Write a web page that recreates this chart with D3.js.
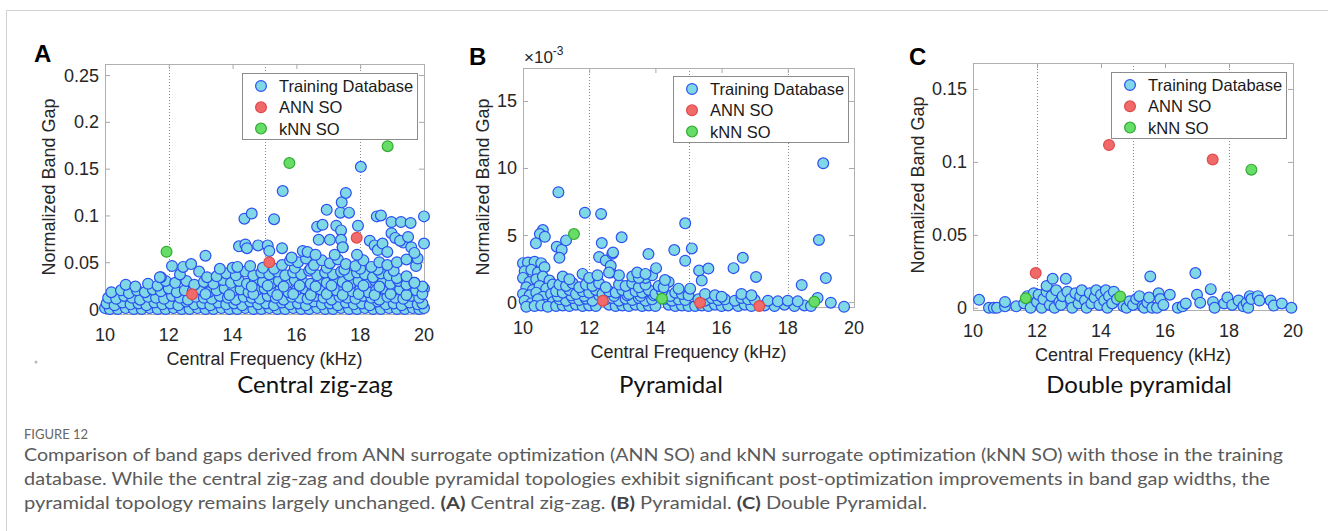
<!DOCTYPE html>
<html>
<head>
<meta charset="utf-8">
<script src="https://cdn.jsdelivr.net/npm/d3@7"></script>
<style>
  html, body { margin: 0; padding: 0; background: #fff; }
  svg { display: block; }
  .tick-label { font-family: "Liberation Sans", Arial, sans-serif; font-size: 18px; fill: #262626; }
  .axis-label { font-family: "Liberation Sans", Arial, sans-serif; font-size: 18px; fill: #262626; }
  .legend-text { font-family: "Liberation Sans", Arial, sans-serif; font-size: 16.5px; fill: #1a1a1a; }
  .panel-letter { font-family: "Liberation Sans", Arial, sans-serif; font-size: 24px; font-weight: bold; fill: #000; }
  .subtitle { font-family: Lato, "Open Sans", sans-serif; font-size: 24px; fill: #111; }
  .caption { font-family: Lato, "Open Sans", sans-serif; font-size: 17.5px; fill: #5a5a5a; }
</style>
</head>
<body>
<svg id="fig" width="1328" height="531"></svg>
<script>
// Panel A: central zig-zag  [freq kHz, normalized band gap]
const trainA = [
  [10.0,0.001],[10.15,0.0],[10.4,0.0],[10.65,0.001],[10.9,0.0],[11.15,0.0],[11.4,0.001],[11.65,0.0],[11.9,0.0],[12.15,0.001],
  [12.4,0.0],[12.65,0.0],[12.9,0.001],[13.15,0.0],[13.4,0.0],[13.65,0.001],[13.9,0.0],[14.15,0.0],[14.4,0.001],[14.65,0.0],
  [14.9,0.0],[15.15,0.001],[15.4,0.0],[15.65,0.0],[15.9,0.001],[16.15,0.0],[16.4,0.0],[16.65,0.001],[16.9,0.0],[17.15,0.0],
  [17.4,0.001],[17.65,0.0],[17.9,0.0],[18.15,0.001],[18.4,0.0],[18.65,0.0],[18.9,0.001],[19.15,0.0],[19.4,0.0],[19.65,0.001],
  [19.85,0.0],[20.0,0.001],
  [10.05,0.006],[10.3,0.004],[10.55,0.007],[10.8,0.005],[11.05,0.006],[11.3,0.004],[11.55,0.007],[11.8,0.005],[12.05,0.006],
  [12.3,0.004],[12.55,0.008],[12.8,0.005],[13.05,0.006],[13.3,0.004],[13.55,0.007],[13.8,0.005],[14.05,0.006],[14.3,0.004],
  [14.55,0.008],[14.8,0.005],[15.05,0.006],[15.3,0.004],[15.55,0.007],[15.8,0.005],[16.05,0.006],[16.3,0.004],[16.55,0.008],
  [16.8,0.005],[17.05,0.006],[17.3,0.004],[17.55,0.007],[17.8,0.005],[18.05,0.006],[18.3,0.004],[18.55,0.008],[18.8,0.005],
  [19.05,0.006],[19.3,0.004],[19.55,0.007],[19.8,0.005],[19.95,0.006],
  [10.1,0.012],[10.35,0.011],[10.6,0.014],[10.85,0.012],[11.1,0.01],[11.35,0.013],[11.6,0.012],[11.85,0.011],[12.1,0.014],
  [12.35,0.012],[12.6,0.01],[12.85,0.013],[13.1,0.012],[13.35,0.011],[13.6,0.014],[13.85,0.012],[14.1,0.01],[14.35,0.013],
  [14.6,0.012],[14.85,0.011],[15.1,0.014],[15.35,0.012],[15.6,0.01],[15.85,0.013],[16.1,0.012],[16.35,0.011],[16.6,0.014],
  [16.85,0.012],[17.1,0.01],[17.35,0.013],[17.6,0.012],[17.85,0.011],[18.1,0.014],[18.35,0.012],[18.6,0.01],[18.85,0.013],
  [19.1,0.012],[19.35,0.011],[19.6,0.014],[19.85,0.012],
  [10.2,0.018],[10.5,0.02],[10.75,0.017],[11.0,0.02],[11.25,0.018],[11.5,0.021],[11.75,0.019],[12.0,0.022],[12.25,0.018],
  [12.5,0.02],[12.75,0.019],[13.0,0.021],[13.25,0.018],[13.5,0.02],[13.75,0.022],[14.0,0.019],[14.25,0.021],[14.5,0.018],
  [14.75,0.02],[15.0,0.022],[15.25,0.019],[15.5,0.021],[15.75,0.018],[16.0,0.02],[16.25,0.022],[16.5,0.019],[16.75,0.021],
  [17.0,0.018],[17.25,0.02],[17.5,0.022],[17.75,0.019],[18.0,0.021],[18.25,0.018],[18.5,0.02],[18.75,0.022],[19.0,0.019],
  [19.25,0.021],[19.5,0.018],[19.75,0.02],[20.0,0.022],
  [13.15,0.016],[13.9,0.015],[14.65,0.016],[15.4,0.015],[15.9,0.016],[16.45,0.015],[16.95,0.016],[17.45,0.015],[17.95,0.016],
  [18.45,0.015],[18.95,0.016],[19.45,0.015],[19.95,0.016],
  [10.65,0.026],[10.95,0.024],[11.35,0.027],[11.65,0.025],[11.9,0.03],[12.2,0.028],[12.55,0.03],[12.8,0.026],[13.1,0.029],
  [13.4,0.027],[13.7,0.031],[13.95,0.028],[14.2,0.03],[14.45,0.027],[14.7,0.031],[14.95,0.029],[15.2,0.027],[15.45,0.03],
  [15.7,0.028],[15.95,0.031],[16.2,0.029],[16.45,0.027],[16.7,0.03],[16.95,0.028],[17.2,0.031],[17.45,0.029],[17.7,0.027],
  [17.95,0.03],[18.2,0.028],[18.45,0.031],[18.7,0.029],[18.95,0.027],[19.2,0.03],[19.45,0.026],[19.7,0.028],[19.95,0.024],
  [14.6,0.024],[15.1,0.025],[15.6,0.024],[16.1,0.025],[16.6,0.024],[17.1,0.025],[17.6,0.024],[18.1,0.025],[18.6,0.024],
  [11.75,0.034],[12.35,0.037],[12.95,0.04],[13.2,0.034],[13.5,0.035],[13.8,0.038],[14.1,0.036],[14.4,0.04],[14.65,0.036],
  [14.9,0.039],[15.15,0.037],[15.4,0.04],[15.65,0.036],[15.9,0.039],[16.15,0.037],[16.4,0.041],[16.65,0.036],[16.9,0.039],
  [17.15,0.037],[17.4,0.04],[17.65,0.036],[17.9,0.039],[18.15,0.037],[18.4,0.034],[18.65,0.038],[18.9,0.036],[19.15,0.033],
  [19.45,0.035],[19.7,0.028],
  [15.3,0.043],[15.95,0.044],[16.45,0.043],[16.95,0.044],[17.5,0.042],[18.0,0.043],[18.55,0.042],[19.05,0.041],
  [12.1,0.046],[12.45,0.045],[12.7,0.048],[13.6,0.043],[14.0,0.044],[14.15,0.045],[14.55,0.046],[14.95,0.044],[15.55,0.047],
  [15.8,0.052],[16.05,0.05],[16.3,0.054],[16.55,0.047],[16.8,0.052],[17.05,0.049],[17.3,0.053],[17.55,0.048],[17.85,0.046],
  [18.1,0.052],[18.35,0.045],[18.6,0.05],[18.85,0.047],[19.15,0.05],[19.45,0.053],[19.75,0.046],[19.8,0.054],
  [14.2,0.067],[14.4,0.069],[14.45,0.065],[14.8,0.068],[15.1,0.068],[15.15,0.062],[15.55,0.065],[15.85,0.055],[16.2,0.062],
  [16.35,0.061],[16.6,0.058],[17.2,0.058],[17.45,0.066],[17.9,0.058],[18.3,0.073],[18.45,0.068],[18.55,0.063],[18.7,0.07],
  [18.85,0.061],[19.35,0.071],[19.6,0.066],[19.7,0.06],
  [11.72,0.034],[13.15,0.057],[14.37,0.0965],[14.6,0.102],[15.3,0.096],[15.57,0.126],[16.65,0.088],[16.82,0.09],[16.95,0.106],
  [17.05,0.074],[16.7,0.074],[17.25,0.089],[17.38,0.103],[17.42,0.114],[17.4,0.084],[17.4,0.074],[17.45,0.066],[17.55,0.124],
  [17.65,0.103],[17.93,0.089],[18.02,0.152],[18.52,0.099],[18.65,0.1],[18.98,0.093],[18.98,0.081],[19.1,0.076],[19.25,0.073],
  [19.28,0.093],[19.5,0.077],[19.58,0.092],[20.0,0.099],[20.0,0.07]
];
const annA = [[12.73,0.0157],[15.15,0.050],[17.89,0.0762]];
const knnA = [[11.93,0.0612],[15.78,0.156],[18.86,0.174]];

// Panel B: pyramidal, band gap in units of 1e-3
const trainB = [
  [10.0,2.9],[10.15,2.95],[10.35,3.0],[10.55,2.9],[10.05,2.3],[10.25,2.4],[10.45,2.2],[10.65,2.6],[10.0,1.8],[10.2,1.5],
  [10.4,1.7],[10.6,1.9],[10.8,1.6],[10.1,1.1],[10.3,0.9],[10.5,1.2],[10.7,1.0],[10.9,1.3],[10.0,0.6],[10.2,0.5],[10.4,0.7],
  [10.6,0.4],[10.85,0.6],[10.05,0.1],[10.25,-0.1],[10.45,0.2],[10.65,-0.2],[10.9,0.0],[10.1,-0.35],[10.35,-0.3],[10.55,-0.25],
  [10.75,-0.35],
  [11.0,-0.3],[11.2,-0.25],[11.4,-0.3],[11.6,-0.2],[11.8,-0.3],[12.0,-0.25],[12.2,-0.3],[12.6,-0.2],[12.8,-0.3],[13.0,-0.25],
  [13.2,-0.3],[13.4,-0.2],[13.6,-0.3],[13.8,-0.25],[14.0,-0.3],[14.4,-0.2],[14.6,-0.3],[14.8,-0.25],[15.0,-0.3],
  [11.1,0.2],[11.3,0.1],[11.5,0.3],[11.7,0.15],[11.9,0.25],[12.1,0.1],[12.5,0.2],[12.7,0.3],[12.9,0.1],[13.1,0.25],[13.3,0.15],
  [13.5,0.3],[13.7,0.1],[13.9,0.2],[14.3,0.25],[14.5,0.1],[14.7,0.2],[14.9,0.15],
  [11.05,0.45],[11.45,0.5],[11.85,0.45],[12.3,0.5],[12.75,0.45],[13.15,0.5],[13.55,0.45],[13.95,0.5],[14.45,0.45],
  [11.0,0.8],[11.2,0.7],[11.4,0.9],[11.6,0.6],[11.8,0.8],[12.0,0.7],[12.2,0.9],[12.4,0.6],[12.6,0.8],[12.8,0.7],[13.0,0.9],
  [13.2,0.6],[13.4,0.8],[13.6,0.7],[13.8,0.9],[14.0,0.6],[14.2,0.8],[14.6,0.7],[14.8,0.6],[15.0,0.5],
  [11.1,1.3],[11.3,1.2],[11.5,1.4],[11.7,1.1],[11.9,1.3],[12.1,1.2],[12.3,1.4],[12.5,1.1],[12.9,1.3],[13.1,1.2],[13.3,1.4],
  [13.5,1.1],[13.7,1.3],[14.1,1.2],[14.4,1.5],[14.7,1.0],[15.05,1.0],
  [11.2,1.9],[11.4,1.7],[11.8,2.1],[12.0,1.8],[12.25,2.0],[12.65,2.2],[12.9,2.0],[13.3,1.9],[13.7,1.8],[13.9,2.0],[14.25,1.1],
  [15.2,-0.3],[15.4,-0.25],[15.6,-0.3],[15.8,-0.2],[16.0,-0.3],[16.2,-0.25],[16.5,-0.3],[16.7,-0.2],[16.9,-0.3],[17.3,-0.25],
  [17.6,-0.3],[17.9,-0.2],[18.2,-0.3],[18.5,-0.25],[18.7,-0.3],
  [15.3,0.2],[15.5,0.1],[15.7,0.3],[15.9,0.15],[16.1,0.2],[16.4,0.1],[16.6,0.3],[16.8,0.2],[17.0,0.15],[17.4,0.1],[17.7,0.05],
  [18.0,0.1],[18.3,0.05],[18.9,0.3],
  [15.5,0.6],[15.8,0.5],[16.0,0.4],[16.6,0.6],[16.9,0.5],
  [11.07,8.19],[11.87,6.66],[12.36,6.57],[14.9,5.87],[19.07,10.35],[18.94,4.63],[10.6,5.37],[10.51,5.07],[10.66,4.87],
  [10.39,4.38],[11.02,4.13],[11.17,3.9],[11.1,3.3],[11.3,4.6],[12.38,4.4],[12.98,4.83],[12.3,3.36],[12.5,3.1],[12.7,3.6],
  [12.72,3.7],[12.65,2.7],[12.6,2.2],[13.79,3.58],[14.02,2.53],[14.57,3.88],[15.1,4.0],[14.9,3.08],[15.32,2.35],[15.4,1.6],
  [15.6,2.5],[16.36,2.53],[16.64,3.3],[17.04,1.87],[18.42,1.27],[19.15,1.79],[19.3,-0.05],[19.7,-0.35],[14.29,1.64],
  [13.5,1.8],[13.45,2.2],[13.7,2.1]
];
const annB = [[12.41,0.1],[15.35,-0.05],[17.14,-0.3]];
const knnB = [[11.54,5.07],[14.2,0.25],[18.8,0.02]];

// Panel C: double pyramidal
const trainC = [
  [10.19,0.0055],[10.5,0.0],[10.65,0.0],[10.75,0.0],[11.0,0.001],[11.0,0.004],[11.35,0.001],[11.6,0.003],[11.7,0.008],
  [11.8,0.0],[11.9,0.01],[12.0,0.004],[12.05,0.009],[12.15,0.0],[12.2,0.006],[12.3,0.011],[12.3,0.015],[12.4,0.002],
  [12.45,0.008],[12.49,0.0199],[12.55,0.0],[12.6,0.012],[12.7,0.004],[12.75,0.002],[12.8,0.008],[12.9,0.0199],[12.95,0.011],
  [13.05,0.006],[13.1,0.0],[13.2,0.01],[13.3,0.003],[13.35,0.008],[13.4,0.012],[13.5,0.005],[13.55,0.0],[13.65,0.01],
  [13.7,0.003],[13.8,0.007],[13.85,0.012],[13.95,0.002],[14.0,0.009],[14.1,0.005],[14.15,0.012],[14.2,0.0],[14.25,0.008],
  [14.35,0.003],[14.4,0.011],[14.5,0.006],[14.7,0.001],[14.8,0.0],[14.9,0.0045],[15.0,0.002],[15.1,0.006],[15.2,0.008],
  [15.3,0.001],[15.35,0.0],[15.45,0.0035],[15.5,0.007],[15.54,0.0215],[15.6,0.0],[15.75,0.0],[15.8,0.01],[15.85,0.006],
  [15.95,0.002],[16.15,0.009],[16.4,0.0],[16.55,0.001],[16.65,0.003],[16.95,0.0238],[17.0,0.009],[17.1,0.0035],[17.43,0.0128],
  [17.5,0.004],[17.55,0.0],[17.85,0.003],[17.95,0.007],[18.1,0.002],[18.3,0.005],[18.45,0.001],[18.55,0.0035],[18.6,0.0],
  [18.65,0.008],[18.7,0.006],[18.9,0.008],[18.95,0.005],[19.3,0.005],[19.4,0.0015],[19.65,0.003],[19.95,0.0]
];
const annC = [[11.96,0.0238],[14.25,0.1116],[17.49,0.1016]];
const knnC = [[11.65,0.0066],[14.6,0.0078],[18.7,0.0947]];

const xTicks = [10, 12, 14, 16, 18, 20];
const gridFreqs = [12, 15, 18];
const yTicksA = [0, 0.05, 0.1, 0.15, 0.2, 0.25];
const yTicksB = [0, 5, 10, 15];
const yTicksC = [0, 0.05, 0.1, 0.15];
const seriesNames = ['Training Database', 'ANN SO', 'kNN SO'];
const panelTitles = ['Central zig-zag', 'Pyramidal', 'Double pyramidal'];

const captionLines = [
  'Comparison of band gaps derived from ANN surrogate optimization (ANN SO) and kNN surrogate optimization (kNN SO) with those in the training',
  'database. While the central zig-zag and double pyramidal topologies exhibit significant post-optimization improvements in band gap widths, the'
];

const styles = [
  { fill: '#80d8e6', stroke: '#2b4ff0' },
  { fill: '#f06a6a', stroke: '#e04848' },
  { fill: '#66dd66', stroke: '#33aa33' }
];

const svg = d3.select('#fig');

// page frame lines
svg.append('line').attr('x1', 6.5).attr('x2', 6.5).attr('y1', 10).attr('y2', 531)
  .attr('stroke', '#d2d2d2');
svg.append('line').attr('x1', 6).attr('x2', 1328).attr('y1', 10.5).attr('y2', 10.5)
  .attr('stroke', '#d2d2d2');

function drawPanel(p) {
  const x = d3.scaleLinear().domain([10, 20]).range([p.left, p.right]);
  const y = d3.scaleLinear().domain(p.yDomain).range([p.bottom, p.top]);
  const g = svg.append('g');

  // dotted grid at 12, 15, 18
  g.selectAll('line.grid').data(gridFreqs).enter().append('line')
    .attr('x1', d => Math.round(x(d)) + 0.5).attr('x2', d => Math.round(x(d)) + 0.5)
    .attr('y1', p.top).attr('y2', p.bottom)
    .attr('stroke', '#8a8a8a').attr('stroke-width', 1).attr('stroke-dasharray', '1,2');

  // axes (ticks inside, on all four sides)
  const tickCol = '#a8a8a8';
  const ax = [
    d3.axisBottom(x).tickValues(xTicks).tickSize(-5).tickFormat(''),
    d3.axisTop(x).tickValues(xTicks).tickSize(-5).tickFormat(''),
    d3.axisLeft(y).tickValues(p.yTicks).tickSize(-5).tickFormat(''),
    d3.axisRight(y).tickValues(p.yTicks).tickSize(-5).tickFormat('')
  ];
  const pos = [[0, p.bottom], [0, p.top], [p.left, 0], [p.right, 0]];
  ax.forEach((a, i) => {
    const s = g.append('g').attr('transform', `translate(${pos[i][0]},${pos[i][1]})`).call(a);
    s.selectAll('path,line').attr('stroke', tickCol);
    s.select('.domain').attr('stroke', '#b0b0b0');
  });

  // tick labels
  g.selectAll('text.xt').data(xTicks).enter().append('text')
    .attr('class', 'tick-label').attr('x', d => x(d)).attr('y', p.bottom + 27)
    .attr('text-anchor', 'middle').text(d => d);
  g.selectAll('text.yt').data(p.yTicks).enter().append('text')
    .attr('class', 'tick-label').attr('x', p.left - 6).attr('y', d => y(d) + 6.5)
    .attr('text-anchor', 'end').text(p.yFormat);

  // axis labels
  g.append('text').attr('class', 'axis-label')
    .attr('x', (p.left + p.right) / 2).attr('y', p.bottom + 51)
    .attr('text-anchor', 'middle').text('Central Frequency (kHz)');
  g.append('text').attr('class', 'axis-label')
    .attr('transform', `translate(${p.ylabX},${p.ylabY}) rotate(-90)`)
    .attr('text-anchor', 'middle').text('Normalized Band Gap');

  // markers
  [p.train, p.ann, p.knn].forEach((data, i) => {
    g.append('g').selectAll('circle').data(data).enter().append('circle')
      .attr('cx', d => x(d[0])).attr('cy', d => y(d[1])).attr('r', 5.4)
      .attr('fill', styles[i].fill).attr('stroke', styles[i].stroke).attr('stroke-width', 1.2);
  });

  // legend
  const L = p.legend;
  const lg = g.append('g');
  lg.append('rect').attr('x', L.x + 0.5).attr('y', L.y + 0.5).attr('width', 175).attr('height', 66)
    .attr('fill', '#fff').attr('stroke', '#8c8c8c');
  seriesNames.forEach((name, i) => {
    const cy = L.y + 13 + i * 21.3;
    lg.append('circle').attr('cx', L.x + 19).attr('cy', cy).attr('r', 5.4)
      .attr('fill', styles[i].fill).attr('stroke', styles[i].stroke).attr('stroke-width', 1.2);
    lg.append('text').attr('class', 'legend-text').attr('x', L.x + 37).attr('y', cy + 6).text(name);
  });

  // panel letter
  svg.append('text').attr('class', 'panel-letter').attr('x', p.letterX).attr('y', p.letterY).text(p.letter);

  // panel subtitle
  svg.append('text').attr('class', 'subtitle').attr('x', p.subX).attr('y', 393)
    .attr('text-anchor', 'middle').text(p.title);

  if (p.exponent) {
    const t = svg.append('text').attr('class', 'axis-label').attr('x', p.left + 1).attr('y', 63)
      .style('font-size', '17px').text('\u00d710');
    t.append('tspan').attr('dy', -8).style('font-size', '12px').text('-3');
  }
}

const fmtPlain = d => d === 0 ? '0' : String(d);

drawPanel({ letter: 'A', title: panelTitles[0], train: trainA, ann: annA, knn: knnA,
  left: 105, right: 424, top: 64, bottom: 314, yDomain: [-0.0053, 0.2618],
  yTicks: yTicksA, yFormat: fmtPlain, ylabX: 55, ylabY: 187, legend: { x: 242, y: 73 },
  letterX: 34, letterY: 62, subX: 315 });

drawPanel({ letter: 'B', title: panelTitles[1], train: trainB, ann: annB, knn: knnB,
  left: 523, right: 854, top: 68, bottom: 307, yDomain: [-0.37, 17.46],
  yTicks: yTicksB, yFormat: fmtPlain, ylabX: 489, ylabY: 187, legend: { x: 673, y: 76 },
  letterX: 469, letterY: 65, subX: 671, exponent: true });

drawPanel({ letter: 'C', title: panelTitles[2], train: trainC, ann: annC, knn: knnC,
  left: 973, right: 1293, top: 63, bottom: 310, yDomain: [-0.0015, 0.1678],
  yTicks: yTicksC, yFormat: fmtPlain, ylabX: 924, ylabY: 185, legend: { x: 1111, y: 72 },
  letterX: 909, letterY: 65, subX: 1139 });

// little grey mark under panel A
svg.append('circle').attr('cx', 36).attr('cy', 362).attr('r', 1.5).attr('fill', '#b8b8b8');

// caption
svg.append('text').attr('class', 'caption').attr('x', 24).attr('y', 439)
  .style('font-size', '13px').style('fill', '#666').text('FIGURE 12');
const captionWidths = [1259, 1246, 903];
captionLines.forEach((line, i) => {
  svg.append('text').attr('class', 'caption').attr('x', 24).attr('y', 461 + i * 24)
    .attr('textLength', captionWidths[i]).attr('lengthAdjust', 'spacingAndGlyphs').text(line);
});
const last = svg.append('text').attr('class', 'caption').attr('x', 24).attr('y', 509)
  .attr('textLength', captionWidths[2]).attr('lengthAdjust', 'spacingAndGlyphs');
last.append('tspan').text('pyramidal topology remains largely unchanged. ');
[['(A)', ' Central zig-zag. '], ['(B)', ' Pyramidal. '], ['(C)', ' Double Pyramidal.']].forEach(([b, t]) => {
  last.append('tspan').style('font-weight', 'bold').style('fill', '#444').text(b);
  last.append('tspan').text(t);
});
</script>
</body>
</html>
